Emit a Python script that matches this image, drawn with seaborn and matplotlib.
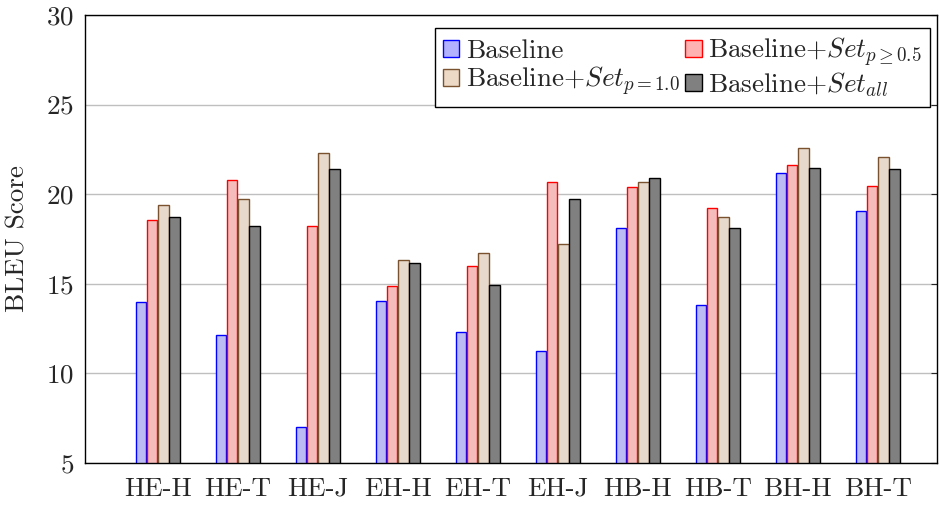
import pandas as pd
import numpy as np
import matplotlib
matplotlib.use('Agg')
import matplotlib.pyplot as plt
import seaborn as sns
from matplotlib.patches import Patch

# language pairs on the x axis
pairs = ['HE-H', 'HE-T', 'HE-J', 'EH-H', 'EH-T', 'EH-J', 'HB-H', 'HB-T', 'BH-H', 'BH-T']

# BLEU scores
baseline = [14.0, 12.15, 7.0, 14.05, 12.3, 11.25, 18.1, 13.8, 21.2, 19.05]
set_p05  = [18.55, 20.8, 18.2, 14.9, 16.0, 20.7, 20.4, 19.25, 21.65, 20.45]
set_p10  = [19.4, 19.75, 22.3, 16.35, 16.7, 17.2, 20.7, 18.75, 22.6, 22.05]
set_all  = [18.75, 18.25, 21.4, 16.15, 14.95, 19.75, 20.9, 18.1, 21.45, 21.4]

systems = ['Baseline', r'Baseline+$Set_{p\geq 0.5}$', r'Baseline+$Set_{p=1.0}$', r'Baseline+$Set_{all}$']
fills = ['#b2b2ff', '#ffb2b2', '#ecd9c6', '#808080']
edges = ['#0000ff', '#ff0000', '#7a5230', '#000000']

rows = []
for name, vals in zip(systems, [baseline, set_p05, set_p10, set_all]):
    for p, v in zip(pairs, vals):
        rows.append({'pair': p, 'score': v, 'system': name})
df = pd.DataFrame(rows)

sns.set_style('white')
plt.rcParams['font.family'] = 'serif'
plt.rcParams['font.serif'] = ['cmr10', 'DejaVu Serif']
plt.rcParams['mathtext.fontset'] = 'cm'
plt.rcParams['axes.formatter.use_mathtext'] = True

fs = 19.5
fig = plt.figure(figsize=(9.39, 5.09), dpi=100)
ax = fig.add_axes([85/939, 1 - 463/509, (937-85)/939, (463-15)/509])

sns.barplot(data=df, x='pair', y='score', hue='system', hue_order=systems,
            palette=dict(zip(systems, fills)), width=0.56, gap=0.06,
            linewidth=1.0, ax=ax, legend=False)

# per-series edge colours, like pgfplots draw=...
for cont, ec in zip(ax.containers, edges):
    for bar in cont:
        bar.set_edgecolor(ec)

ax.set_ylim(5, 30)
ax.set_xlim(-0.91, 9.74)
ax.set_yticks([5, 10, 15, 20, 25, 30])
ax.yaxis.grid(True, color='#bfbfbf', linewidth=1.0)
ax.set_axisbelow(True)
for s in ax.spines.values():
    s.set_color('black')
    s.set_linewidth(1.0)
ax.tick_params(axis='y', direction='in', length=4, right=True, labelsize=fs, pad=8)
ax.tick_params(axis='x', length=0, labelsize=fs, pad=10)
ax.set_xlabel('')
ax.set_ylabel('BLEU Score', fontsize=fs, labelpad=12)

# legend: two columns, row order as in the reference
order = [0, 2, 1, 3]
handles = [Patch(facecolor=fills[i], edgecolor=edges[i], linewidth=1.0) for i in order]
labels = [systems[i] for i in order]
leg = ax.legend(handles, labels, ncol=2, loc='upper right', bbox_to_anchor=(0.992, 0.972),
                fontsize=fs, frameon=True, fancybox=False, framealpha=1,
                handlelength=0.6, handleheight=0.6, handletextpad=0.25,
                columnspacing=0.2, labelspacing=0.05, borderpad=0.3, borderaxespad=0)
leg.get_frame().set_edgecolor('black')
leg.get_frame().set_linewidth(1.0)

plt.savefig('out.png', dpi=100)
